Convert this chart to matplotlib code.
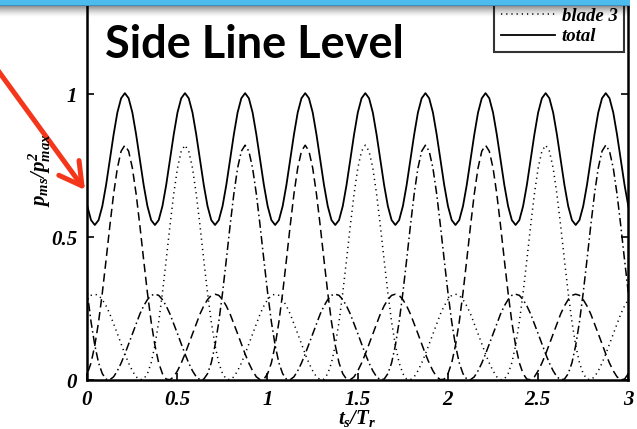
import numpy as np
import matplotlib
matplotlib.use('Agg')
import matplotlib.pyplot as plt
from matplotlib.patches import FancyArrowPatch

# ---------------- data ----------------
# p^2/p_max^2 of one blade over one rotor revolution, sampled every 1/48 rev,
# starting at the blade's main peak
blade_profile = [0.821, 0.800, 0.741, 0.650, 0.539, 0.420, 0.305, 0.203, 0.121, 0.060,
                 0.022, 0.003, 0.001, 0.011, 0.032, 0.059, 0.091, 0.126, 0.162, 0.197,
                 0.231, 0.259, 0.281, 0.296, 0.300, 0.296, 0.281, 0.259, 0.231, 0.197,
                 0.162, 0.126, 0.091, 0.059, 0.032, 0.011, 0.001, 0.003, 0.022, 0.060,
                 0.121, 0.203, 0.305, 0.420, 0.539, 0.650, 0.741, 0.800]
samples_per_rev = 48
first_peak = 0.21                      # t_s/T_r of blade 1's first main peak
blade_names = ['blade 1', 'blade 2', 'blade 3']
blade_lag = [0, 32, 16]                # sample lag of each blade (1/3 rev = 16 samples)
total_name = 'total'
xticks = [0, 0.5, 1, 1.5, 2, 2.5, 3]
xticklabels = ['0', '0.5', '1', '1.5', '2', '2.5', '3']
yticks = [0, 0.5, 1]
yticklabels = ['0', '0.5', '1']
title_text = 'Side Line Level'

# ---------------- style ----------------
plt.rcParams['font.family'] = ['Liberation Serif', 'DejaVu Serif']
plt.rcParams['font.weight'] = 'bold'
plt.rcParams['font.style'] = 'italic'
plt.rcParams['mathtext.fontset'] = 'custom'
plt.rcParams['mathtext.it'] = 'Liberation Serif:bold:italic'
plt.rcParams['mathtext.rm'] = 'Liberation Serif:bold:italic'
plt.rcParams['mathtext.bf'] = 'Liberation Serif:bold:italic'

W, H = 637, 429
fig = plt.figure(figsize=(W / 100, H / 100), dpi=100)
ax_l, ax_r, ax_b, ax_t = 87, 628, 380, 0
ax = fig.add_axes([ax_l / W, 1 - ax_b / H, (ax_r - ax_l) / W, (ax_b - ax_t) / H])

prof = np.array(blade_profile)
idx = np.arange(-samples_per_rev, samples_per_rev * 4 + 1)
t = first_peak + idx / samples_per_rev
curves = []
for lag in blade_lag:
    curves.append(prof[(idx - lag) % samples_per_rev])
total = curves[0] + curves[1] + curves[2]

styles = [dict(dashes=(5.5, 3)), dict(dashes=(5.5, 2.2, 1, 2.2)), dict(dashes=(0.8, 2.6))]
for name, y, st in zip(blade_names, curves, styles):
    ax.plot(t, y, color='black', lw=1.1, label=name, **st)
ax.plot(t, total, color='black', lw=1.3, label=total_name)

ax.set_xlim(0, 3)
ax.set_ylim(0, (ax_b - ax_t) / 286.0)
ax.set_xticks(xticks)
ax.set_xticklabels(xticklabels)
ax.set_yticks(yticks)
ax.set_yticklabels(yticklabels)
ax.tick_params(direction='in', length=5, width=1.2, top=False, right=True,
               labelsize=15, pad=7)
for s in ['left', 'bottom', 'right']:
    ax.spines[s].set_linewidth(1.8)
ax.spines['top'].set_visible(False)

ax.set_xlabel(r'$t_s/T_r$', fontsize=15, labelpad=-1)
fig.text(40 / W, 1 - 170 / H, r'$p_{ms}/p^2_{max}$', rotation=90, fontsize=15,
         ha='center', va='center')

leg = ax.legend(loc='lower right', bbox_to_anchor=(624 / W, 1 - 52 / H),
                bbox_transform=fig.transFigure, fontsize=13.5, frameon=True,
                fancybox=False, edgecolor='black', handlelength=2.9,
                handletextpad=0.35, labelspacing=0.2, borderpad=0.35,
                borderaxespad=0)
leg.get_frame().set_linewidth(1.5)

fig.text(105 / W, 1 - 58 / H, title_text, fontsize=32.5, fontfamily='Lato',
         fontweight='bold', fontstyle='normal', ha='left', va='baseline')

arrow = FancyArrowPatch((-6 / W, 1 - 65 / H), (85 / W, 1 - 190 / H),
                        transform=fig.transFigure,
                        arrowstyle='->,head_length=16,head_width=9',
                        mutation_scale=1, color='#F4361B', lw=3.6,
                        shrinkA=0, shrinkB=0, capstyle='round', joinstyle='round')
fig.add_artist(arrow)

# top banner (blue bar with shadow)
bar_h = 17
bar = fig.add_axes([0, 1 - bar_h / H, 630 / W, bar_h / H], zorder=20)
bar.axis('off')
img = np.zeros((bar_h, 2, 4))
blue = np.array([0.30, 0.74, 0.94])
for r in range(bar_h):
    if r < 5:
        img[r, :, :3] = blue
        img[r, :, 3] = 1.0
    elif r == 5:
        img[r, :, :3] = [0.25, 0.55, 0.72]
        img[r, :, 3] = 1.0
    else:
        a = 0.42 * (1 - (r - 6) / (bar_h - 6)) ** 1.5
        img[r, :, :3] = 0.0
        img[r, :, 3] = a
bar.imshow(img, aspect='auto', extent=[0, 1, 0, 1], interpolation='nearest')
bar.set_xlim(0, 1)
bar.set_ylim(0, 1)

fig.savefig('out.png', dpi=100)
